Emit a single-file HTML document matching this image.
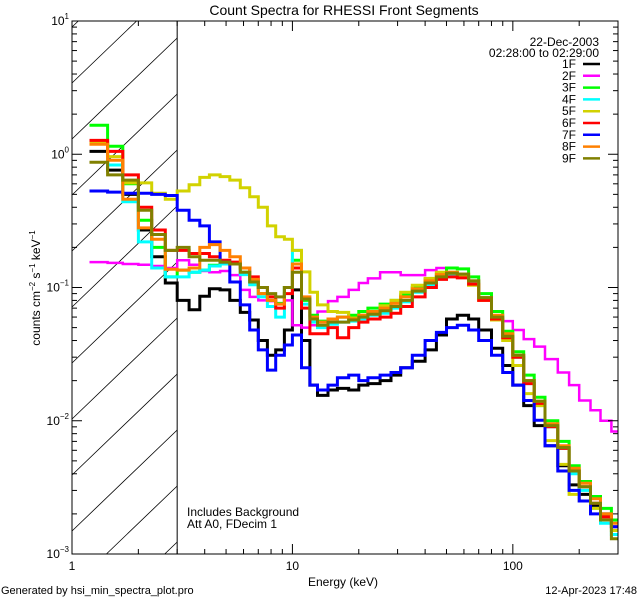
<!DOCTYPE html>
<html><head><meta charset="utf-8">
<style>
html,body{margin:0;padding:0;background:#fff;width:640px;height:600px;overflow:hidden;}
svg{display:block;font-family:"Liberation Sans",sans-serif;}
</style></head>
<body>
<svg id="chart" width="640" height="600" viewBox="0 0 640 600" xmlns="http://www.w3.org/2000/svg">
<rect width="640" height="600" fill="#fff"/>
<text x="344" y="15" font-size="14" text-anchor="middle">Count Spectra for RHESSI Front Segments</text>
<g id="plot"></g>
<text x="343" y="586" font-size="12" text-anchor="middle">Energy (keV)</text>
<text transform="translate(40,288) rotate(-90)" font-size="12" text-anchor="middle">counts cm<tspan font-size="8" dy="-5">−2</tspan><tspan dy="5"> s</tspan><tspan font-size="8" dy="-5">−1</tspan><tspan dy="5"> keV</tspan><tspan font-size="8" dy="-5">−1</tspan></text>
<text x="1" y="594" font-size="11">Generated by hsi_min_spectra_plot.pro</text>
<text x="637" y="594" font-size="11" text-anchor="end">12-Apr-2023 17:48</text>
<text x="187" y="516" font-size="12">Includes Background</text>
<text x="187" y="528" font-size="12">Att A0, FDecim 1</text>
<text x="599" y="46" font-size="12" text-anchor="end">22-Dec-2003</text>
<text x="599" y="57" font-size="12" text-anchor="end">02:28:00 to 02:29:00</text>
</svg>
<script>
const edges=[1.2,1.45,1.7,2.0,2.3,2.65,3.0,3.4,3.8,4.2,4.7,5.2,5.8,6.4,7.0,7.7,8.4,9.2,10,11,12,13,14.5,16,18,20,22,25,28,31,35,40,45,50,56,63,70,80,90,100,112,125,140,160,180,200,225,250,280,300];
const seriesNames=["1F","2F","3F","4F","5F","6F","7F","8F","9F"];
const seriesColors=["#000000","#ff00ff","#00ff00","#00ffff","#d2d200","#ff0000","#0000ff","#ff8000","#808000"];
const s1F=[1.05,0.76,0.50,0.27,0.17,0.108,0.08,0.068,0.086,0.098,0.096,0.08,0.065,0.057,0.04,0.031,0.034,0.048,0.096,0.04,0.0185,0.0155,0.017,0.0175,0.017,0.0185,0.019,0.02,0.022,0.025,0.028,0.034,0.044,0.058,0.062,0.058,0.048,0.035,0.026,0.0185,0.013,0.0092,0.0065,0.0046,0.0033,0.0028,0.0023,0.002,0.0018];
const s2F=[0.155,0.153,0.150,0.148,0.145,0.14,0.16,0.148,0.133,0.13,0.133,0.124,0.096,0.085,0.08,0.079,0.085,0.08,0.052,0.050,0.052,0.066,0.079,0.085,0.096,0.108,0.117,0.13,0.13,0.124,0.124,0.135,0.14,0.13,0.122,0.104,0.08,0.062,0.056,0.048,0.041,0.036,0.029,0.023,0.0185,0.0142,0.012,0.010,0.0083];
const s3F=[1.65,1.15,0.6,0.32,0.2,0.12,0.135,0.13,0.135,0.147,0.155,0.15,0.13,0.11,0.09,0.08,0.076,0.1,0.16,0.08,0.062,0.056,0.058,0.06,0.062,0.066,0.07,0.075,0.08,0.088,0.1,0.115,0.128,0.14,0.138,0.12,0.09,0.066,0.047,0.033,0.022,0.015,0.01,0.007,0.0046,0.0035,0.0027,0.0022,0.0018];
const s4F=[1.2,0.83,0.44,0.22,0.14,0.12,0.12,0.13,0.135,0.145,0.15,0.15,0.125,0.105,0.085,0.072,0.06,0.1,0.19,0.075,0.055,0.05,0.053,0.055,0.056,0.058,0.062,0.064,0.07,0.078,0.092,0.105,0.118,0.125,0.122,0.11,0.083,0.06,0.043,0.03,0.019,0.013,0.009,0.0062,0.004,0.003,0.0022,0.0017,0.0014];
const s5F=[1.24,0.96,0.61,0.61,0.51,0.46,0.53,0.59,0.67,0.70,0.68,0.64,0.56,0.48,0.40,0.29,0.24,0.23,0.19,0.131,0.092,0.074,0.066,0.065,0.059,0.062,0.066,0.073,0.080,0.092,0.104,0.117,0.13,0.13,0.12,0.104,0.08,0.057,0.04,0.026,0.016,0.013,0.0071,0.0047,0.0028,0.0025,0.0022,0.0018,0.0015];
const s6F=[1.27,1.05,0.7,0.4,0.27,0.19,0.19,0.18,0.18,0.17,0.16,0.155,0.14,0.12,0.1,0.085,0.07,0.09,0.14,0.07,0.045,0.045,0.05,0.042,0.05,0.055,0.058,0.06,0.064,0.072,0.085,0.1,0.115,0.12,0.118,0.106,0.08,0.058,0.042,0.03,0.019,0.0135,0.009,0.0062,0.0042,0.0032,0.0024,0.0019,0.0016];
const s7F=[0.53,0.52,0.51,0.51,0.50,0.49,0.38,0.32,0.29,0.22,0.155,0.11,0.074,0.048,0.034,0.024,0.031,0.037,0.044,0.025,0.0185,0.017,0.0185,0.021,0.022,0.020,0.021,0.022,0.023,0.025,0.031,0.040,0.046,0.05,0.052,0.048,0.040,0.031,0.023,0.0185,0.0142,0.0101,0.0065,0.0042,0.003,0.0025,0.002,0.0018,0.0016];
const s8F=[1.19,0.9,0.46,0.28,0.23,0.137,0.135,0.14,0.2,0.21,0.19,0.17,0.14,0.115,0.09,0.08,0.075,0.1,0.15,0.085,0.06,0.055,0.058,0.06,0.058,0.062,0.066,0.07,0.076,0.085,0.098,0.112,0.125,0.13,0.126,0.112,0.084,0.062,0.045,0.031,0.02,0.014,0.0095,0.0065,0.0044,0.0034,0.0026,0.002,0.0017];
const s9F=[0.87,0.7,0.64,0.38,0.25,0.19,0.2,0.17,0.16,0.16,0.155,0.15,0.13,0.11,0.1,0.09,0.085,0.1,0.13,0.082,0.058,0.052,0.055,0.055,0.057,0.06,0.063,0.067,0.072,0.08,0.094,0.108,0.12,0.128,0.126,0.112,0.084,0.06,0.043,0.031,0.02,0.014,0.0092,0.0063,0.0042,0.0032,0.0024,0.0018,0.0013];
const seriesValues=[s1F,s2F,s3F,s4F,s5F,s6F,s7F,s8F,s9F];
const xTickValues=[1,10,100];
const xTickLabels=["1","10","100"];
const yTickExps=[1,0,-1,-2,-3];
const X0=72,X1=618,Y0=21,Y1=554;
const xMin=1,xMax=300,yMin=1e-3,yMax=10;
const NS="http://www.w3.org/2000/svg";
function xs(e){return X0+(Math.log10(e)-Math.log10(xMin))/(Math.log10(xMax)-Math.log10(xMin))*(X1-X0);}
function ys(v){return Y1-(Math.log10(v)-Math.log10(yMin))/(Math.log10(yMax)-Math.log10(yMin))*(Y1-Y0);}
function mk(tag,attrs,parent){const el=document.createElementNS(NS,tag);for(const k in attrs)el.setAttribute(k,attrs[k]);parent.appendChild(el);return el;}
const svg=document.getElementById('chart');
const plot=document.getElementById('plot');
const defs=mk('defs',{},plot);
const cp=mk('clipPath',{id:'pc'},defs);
mk('rect',{x:X0,y:Y0,width:X1-X0,height:Y1-Y0},cp);
const hatch=mk('g',{},plot);


const HX1=xs(3),SL=0.96;
for(let k=-2;k<12;k++){
  const b=83+k*56;
  // line y = b - SL*(x-X0), clip to [X0,HX1]x[Y0,Y1]
  let xa=X0,xb=HX1;
  const xAtY1=X0+(b-Y1)/SL, xAtY0=X0+(b-Y0)/SL;
  xa=Math.max(xa,xAtY1); xb=Math.min(xb,xAtY0);
  if(xb<=xa) continue;
  mk('line',{x1:xa.toFixed(1),y1:(b-SL*(xa-X0)).toFixed(1),x2:xb.toFixed(1),y2:(b-SL*(xb-X0)).toFixed(1),stroke:'#000','stroke-width':0.8},hatch);
}
const bound=mk('line',{x1:HX1,y1:Y0,x2:HX1,y2:Y1,stroke:'#000','stroke-width':1},plot);


const sg=mk('g',{'clip-path':'url(#pc)'},plot);
seriesValues.forEach((vals,i)=>{
  let d='';
  for(let b=0;b<vals.length;b++){
    const xa=xs(edges[b]).toFixed(1),xb=xs(edges[b+1]).toFixed(1),y=ys(vals[b]).toFixed(1);
    d+=(b===0?'M':'L')+xa+','+y+'L'+xb+','+y;
  }
  const p=mk('path',{d:d,fill:'none',stroke:seriesColors[i],'stroke-width':i===1?2.5:3,'stroke-linejoin':'miter'},sg);
  
  
});
const fr=mk('rect',{x:X0,y:Y0,width:X1-X0,height:Y1-Y0,fill:'none',stroke:'#000','stroke-width':1},plot);


const xa=mk('g',{},plot);


for(let dec=1;dec<=100;dec*=10){for(let m=1;m<=9;m++){const e=dec*m;if(e>xMax)break;const x=xs(e);const L=m===1?10:5;
 mk('line',{x1:x,y1:Y1,x2:x,y2:Y1-L,stroke:'#000'},xa);mk('line',{x1:x,y1:Y0,x2:x,y2:Y0+L,stroke:'#000'},xa);}}
xTickValues.forEach((v,i)=>{const t=mk('text',{x:xs(v),y:Y1+16,'font-size':12,'text-anchor':'middle'},xa);t.textContent=xTickLabels[i];
 
 });
const ya=mk('g',{},plot);


for(let ex=-3;ex<1;ex++){for(let m=1;m<=9;m++){const v=m*Math.pow(10,ex);const y=ys(v);const L=m===1?10:5;
 mk('line',{x1:X0,y1:y,x2:X0+L,y2:y,stroke:'#000'},ya);mk('line',{x1:X1,y1:y,x2:X1-L,y2:y,stroke:'#000'},ya);}}
mk('line',{x1:X0,y1:Y0,x2:X0+10,y2:Y0,stroke:'#000'},ya);
yTickExps.forEach(ex=>{const y=ys(Math.pow(10,ex));const t=mk('text',{x:X0-3,y:y+4,'font-size':12,'text-anchor':'end'},ya);
 
 
 const a=mk('tspan',{},t);a.textContent='10';const b=mk('tspan',{'font-size':8,dy:-6},t);b.textContent=ex<0?'−'+(-ex):String(ex);});
const lg=mk('g',{},plot);


seriesNames.forEach((n,i)=>{const y=64+i*11.8;
 const g=mk('g',{},lg);
 
 
 const t=mk('text',{x:576,y:y+4,'font-size':12,'text-anchor':'end'},g);t.textContent=n;
 mk('line',{x1:583,y1:y,x2:600,y2:y,stroke:seriesColors[i],'stroke-width':2.5},g);});
</script>
</body></html>
